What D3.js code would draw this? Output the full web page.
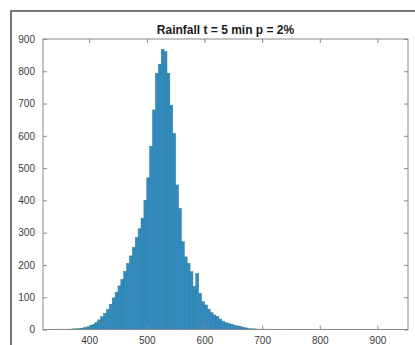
<!DOCTYPE html>
<html lang="en">
<head>
    <meta charset="UTF-8">
    <title>Rainfall t = 5 min p = 2%</title>
    <script src="https://cdnjs.cloudflare.com/ajax/libs/d3/7.8.5/d3.min.js"></script>
    <style>
        body {
            margin: 0;
            background-color: #fff;
        }

        svg {
            display: block;
            font-family: "Liberation Sans", Arial, sans-serif;
        }
    </style>
</head>
<body>
<svg width="415" height="345"></svg>

<script>
    // Histogram bins (left edge) and counts, bin width 5
    const binStarts = [345, 350, 355, 360, 365, 370, 375, 380, 385, 390, 395,
        400, 405, 410, 415, 420, 425, 430, 435, 440, 445, 450, 455, 460, 465, 470, 475,
        480, 485, 490, 495, 500, 505, 510, 515, 520, 525, 530, 535, 540, 545, 550, 555,
        560, 565, 570, 575, 580, 585, 590, 595, 600, 605, 610, 615, 620, 625, 630, 635,
        640, 645, 650, 655, 660, 665, 670, 675, 680, 685, 690, 695, 700, 705, 710, 715,
        720, 725, 730];
    const counts = [1, 1, 0, 1, 1, 2, 2, 3, 4, 6, 8,
        12, 16, 22, 30, 40, 50, 62, 78, 98, 115, 135, 155, 180, 205, 228, 255,
        285, 312, 345, 400, 470, 568, 680, 794, 822, 868, 861, 794, 695, 608, 448, 375,
        272, 225, 205, 179, 133, 174, 112, 86, 76, 63, 52, 45, 40, 32, 26, 21,
        19, 16, 13, 11, 9, 7, 5, 3, 2, 2, 1, 1, 1, 0, 1, 0,
        0, 0, 1];
    const binWidth = 5;

    const xTicks = [400, 500, 600, 700, 800, 900];
    const yTicks = [0, 100, 200, 300, 400, 500, 600, 700, 800, 900];
    const title = "Rainfall t = 5 min p = 2%";

    const svg = d3.select("svg");
    const margin = {left: 43, top: 39, right: 7, bottom: 15.5};
    const width = 415 - margin.left - margin.right;
    const height = 345 - margin.top - margin.bottom;

    // figure frame (cut off on the right and bottom)
    svg.append("rect")
        .attr("x", 11).attr("y", 11)
        .attr("width", 420).attr("height", 360)
        .attr("fill", "none")
        .attr("stroke", "#4a4a4a")
        .attr("stroke-width", 1.5);

    const x = d3.scaleLinear().domain([320, 953]).range([0, width]);
    const y = d3.scaleLinear().domain([0, 900]).range([height, 0]);

    const g = svg.append("g")
        .attr("transform", `translate(${margin.left},${margin.top})`);

    const data = binStarts.map((b, i) => ({x0: b, x1: b + binWidth, n: counts[i]}));

    g.selectAll("rect.bar")
        .data(data)
        .enter()
        .append("rect")
        .attr("class", "bar")
        .attr("x", d => x(d.x0))
        .attr("y", d => y(d.n))
        .attr("width", d => x(d.x1) - x(d.x0))
        .attr("height", d => y(0) - y(d.n))
        .attr("fill", "#3389c9")
        .attr("stroke", "#23807f")
        .attr("stroke-width", 0.5);

    // axes, MATLAB style: ticks inward on all four sides
    const axisColor = "#8a8a8a";
    const styleAxis = sel => {
        sel.select(".domain").remove();
        sel.selectAll(".tick line").attr("stroke", axisColor);
        sel.selectAll(".tick text")
            .attr("fill", "#3a3a3a")
            .attr("font-size", 10);
    };

    g.append("g")
        .attr("transform", `translate(0,${height})`)
        .call(d3.axisBottom(x).tickValues(xTicks).tickSizeInner(-4).tickSizeOuter(0).tickPadding(7))
        .call(styleAxis);

    g.append("g")
        .call(d3.axisTop(x).tickValues(xTicks).tickSizeInner(-4).tickSizeOuter(0).tickFormat(""))
        .call(styleAxis);

    g.append("g")
        .call(d3.axisLeft(y).tickValues(yTicks).tickSizeInner(-4).tickSizeOuter(0).tickPadding(8))
        .call(styleAxis);

    g.append("g")
        .attr("transform", `translate(${width},0)`)
        .call(d3.axisRight(y).tickValues(yTicks).tickSizeInner(-4).tickSizeOuter(0).tickFormat(""))
        .call(styleAxis);

    g.append("rect")
        .attr("width", width)
        .attr("height", height)
        .attr("fill", "none")
        .attr("stroke", axisColor)
        .attr("stroke-width", 1);

    svg.append("text")
        .attr("x", margin.left + width / 2)
        .attr("y", 34)
        .attr("text-anchor", "middle")
        .attr("font-size", 12)
        .attr("font-weight", "bold")
        .attr("fill", "#1a1a1a")
        .text(title);
</script>
</body>
</html>
